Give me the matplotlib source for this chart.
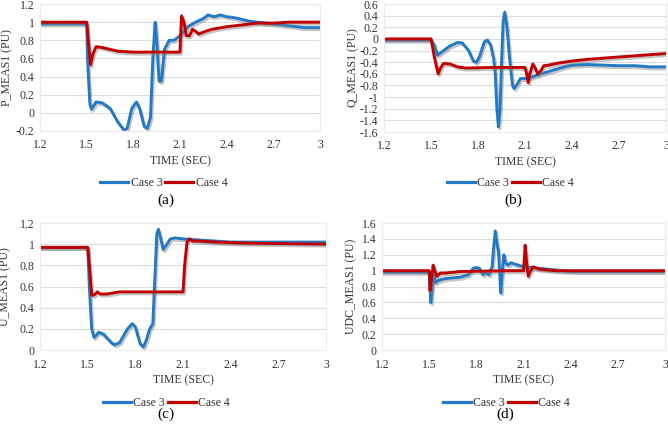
import matplotlib
matplotlib.use("Agg")
import matplotlib.pyplot as plt
import matplotlib.patheffects as pe

plt.rcParams['font.family'] = ['Liberation Serif', 'DejaVu Serif']

# ---------------- data ----------------
# (a) P_MEAS1
p3_t = [1.2, 1.5, 1.505, 1.52, 1.53, 1.56, 1.6, 1.65, 1.7, 1.74, 1.76, 1.79, 1.82, 1.84, 1.87, 1.89, 1.91, 1.925, 1.94, 1.95, 1.965, 1.98, 2.0, 2.03, 2.06, 2.1, 2.15, 2.2, 2.25, 2.28, 2.32, 2.36, 2.4, 2.45, 2.5, 2.55, 2.6, 2.7, 2.8, 2.9, 3.0]
p3_v = [0.98, 0.98, 0.6, 0.1, 0.04, 0.12, 0.11, 0.05, -0.1, -0.19, -0.17, 0.05, 0.12, 0.05, -0.15, -0.17, -0.05, 0.6, 1.0, 0.8, 0.35, 0.35, 0.7, 0.8, 0.8, 0.85, 0.95, 1.0, 1.04, 1.08, 1.06, 1.08, 1.06, 1.05, 1.03, 1.01, 1.0, 0.98, 0.96, 0.94, 0.94]
p4_t = [1.2, 1.5, 1.51, 1.525, 1.54, 1.56, 1.6, 1.65, 1.7, 1.8, 2.0, 2.1, 2.105, 2.11, 2.125, 2.14, 2.16, 2.18, 2.2, 2.22, 2.25, 2.3, 2.4, 2.5, 2.6, 2.7, 2.8, 3.0]
p4_v = [1.0, 1.0, 0.8, 0.53, 0.65, 0.73, 0.72, 0.70, 0.68, 0.67, 0.67, 0.67, 0.9, 1.07, 1.0, 0.85, 0.85, 0.92, 0.9, 0.87, 0.89, 0.92, 0.95, 0.97, 0.99, 0.99, 1.0, 1.0]

# (b) Q_MEAS1
q3_t = [1.2, 1.5, 1.52, 1.54, 1.57, 1.62, 1.67, 1.7, 1.74, 1.77, 1.79, 1.81, 1.84, 1.86, 1.88, 1.9, 1.91, 1.92, 1.93, 1.94, 1.95, 1.96, 1.97, 1.985, 2.0, 2.02, 2.03, 2.05, 2.07, 2.1, 2.15, 2.2, 2.25, 2.3, 2.35, 2.4, 2.5, 2.6, 2.7, 2.8, 2.9, 3.0]
q3_v = [-0.02, -0.02, -0.1, -0.28, -0.22, -0.12, -0.06, -0.07, -0.2, -0.38, -0.4, -0.3, -0.05, -0.02, -0.1, -0.35, -0.6, -1.2, -1.51, -1.2, -0.4, 0.3, 0.46, 0.2, -0.3, -0.8, -0.85, -0.78, -0.68, -0.68, -0.65, -0.6, -0.56, -0.52, -0.48, -0.45, -0.44, -0.45, -0.46, -0.46, -0.48, -0.48]
q4_t = [1.2, 1.5, 1.52, 1.545, 1.56, 1.58, 1.62, 1.67, 1.72, 1.9, 2.1, 2.11, 2.12, 2.13, 2.15, 2.165, 2.18, 2.2, 2.22, 2.25, 2.3, 2.4, 2.5, 2.6, 2.7, 2.8, 2.9, 3.0]
q4_v = [0.0, 0.0, -0.3, -0.6, -0.5, -0.42, -0.43, -0.48, -0.5, -0.49, -0.49, -0.6, -0.75, -0.6, -0.43, -0.5, -0.6, -0.55, -0.46, -0.45, -0.42, -0.38, -0.35, -0.33, -0.31, -0.29, -0.27, -0.25]

# (c) U_MEAS1
u3_t = [1.2, 1.5, 1.51, 1.525, 1.54, 1.57, 1.6, 1.65, 1.67, 1.7, 1.75, 1.78, 1.8, 1.83, 1.85, 1.87, 1.89, 1.91, 1.92, 1.935, 1.945, 1.96, 1.975, 1.99, 2.02, 2.05, 2.1, 2.2, 2.4, 2.7, 3.0]
u3_v = [0.97, 0.97, 0.6, 0.2, 0.12, 0.17, 0.15, 0.07, 0.05, 0.07, 0.2, 0.25, 0.22, 0.06, 0.03, 0.1, 0.2, 0.25, 0.6, 1.1, 1.14, 1.05, 0.95, 0.98, 1.05, 1.06, 1.05, 1.04, 1.02, 1.02, 1.02]
u4_t = [1.2, 1.5, 1.51, 1.525, 1.54, 1.56, 1.58, 1.62, 1.7, 1.8, 2.1, 2.11, 2.125, 2.14, 2.16, 2.2, 2.3, 2.5, 3.0]
u4_v = [0.97, 0.97, 0.8, 0.52, 0.52, 0.55, 0.53, 0.53, 0.55, 0.55, 0.55, 0.8, 1.02, 1.05, 1.03, 1.03, 1.02, 1.01, 1.0]

# (d) UDC_MEAS1
d3_t = [1.2, 1.5, 1.505, 1.51, 1.52, 1.53, 1.54, 1.56, 1.6, 1.7, 1.75, 1.78, 1.8, 1.82, 1.84, 1.86, 1.88, 1.9, 1.91, 1.92, 1.93, 1.94, 1.95, 1.955, 1.965, 1.975, 1.985, 2.0, 2.02, 2.05, 2.1, 2.15, 2.2, 2.25, 2.3, 2.4, 2.6, 3.0]
d3_v = [0.98, 0.98, 0.8, 0.6, 0.8, 0.95, 0.85, 0.88, 0.9, 0.92, 0.95, 1.03, 1.04, 1.03, 0.95, 0.97, 0.95, 1.05, 1.3, 1.5, 1.35, 1.25, 0.9, 0.72, 1.0, 1.2, 1.1, 1.07, 1.1, 1.08, 1.05, 1.04, 1.03, 1.02, 1.01, 0.99, 0.99, 0.99]
d4_t = [1.2, 1.5, 1.505, 1.515, 1.525, 1.535, 1.55, 1.57, 1.6, 1.65, 1.7, 2.0, 2.1, 2.11, 2.12, 2.13, 2.14, 2.16, 2.2, 2.3, 3.0]
d4_v = [1.0, 1.0, 0.75, 0.9, 1.07, 1.0, 0.93, 0.97, 0.97, 0.98, 0.99, 1.0, 1.0, 1.32, 1.1, 0.93, 0.98, 1.05, 1.02, 1.0, 1.0]

x_ticks = [1.2, 1.5, 1.8, 2.1, 2.4, 2.7, 3.0]
x_ticklabels = ['1.2', '1.5', '1.8', '2.1', '2.4', '2.7', '3']
series_names = ['Case 3', 'Case 4']
panel_labels = ['(a)', '(b)', '(c)', '(d)']
ylabels = ['P_MEAS1 (PU)', 'Q_MEAS1 (PU)', 'U_MEAS1 (PU)', 'UDC_MEAS1 (PU)']

BLUE = '#2479c6'
RED = '#c00000'
GRID = '#dcdcdc'

fig = plt.figure(figsize=(6.68, 4.26), dpi=100)

panels = [
    dict(pos=[0.060, 0.6925, 0.419, 0.298], d3=(p3_t, p3_v), d4=(p4_t, p4_v),
         ylim=(-0.2, 1.2), yt=[-0.2, 0, 0.2, 0.4, 0.6, 0.8, 1, 1.2],
         ytl=['-0.2', '0', '0.2', '0.4', '0.6', '0.8', '1', '1.2'],
         leg=(0.245, 0.570), lab=(0.249, 0.531), ylx=-0.094),
    dict(pos=[0.575, 0.690, 0.422, 0.3006], d3=(q3_t, q3_v), d4=(q4_t, q4_v),
         ylim=(-1.6, 0.6), yt=[-1.6, -1.4, -1.2, -1, -0.8, -0.6, -0.4, -0.2, 0, 0.2, 0.4, 0.6],
         ytl=['-1.6', '-1.4', '-1.2', '-1', '-0.8', '-0.6', '-0.4', '-0.2', '0', '0.2', '0.4', '0.6'],
         leg=(0.764, 0.570), lab=(0.769, 0.531), ylx=-0.089),
    dict(pos=[0.060, 0.178, 0.428, 0.2985], d3=(u3_t, u3_v), d4=(u4_t, u4_v),
         ylim=(0, 1.2), yt=[0, 0.2, 0.4, 0.6, 0.8, 1, 1.2],
         ytl=['0', '0.2', '0.4', '0.6', '0.8', '1', '1.2'],
         leg=(0.249, 0.054), lab=(0.249, 0.028), ylx=-0.099),
    dict(pos=[0.572, 0.178, 0.4235, 0.2985], d3=(d3_t, d3_v), d4=(d4_t, d4_v),
         ylim=(0, 1.6), yt=[0, 0.2, 0.4, 0.6, 0.8, 1, 1.2, 1.4, 1.6],
         ytl=['0', '0.2', '0.4', '0.6', '0.8', '1', '1.2', '1.4', '1.6'],
         leg=(0.758, 0.054), lab=(0.756, 0.028), ylx=-0.088),
]

shadow = [pe.SimpleLineShadow(offset=(1.0, -1.5), shadow_color='#808080', alpha=0.45), pe.Normal()]

for i, p in enumerate(panels):
    ax = fig.add_axes(p['pos'])
    l3, = ax.plot(p['d3'][0], p['d3'][1], color=BLUE, lw=2.1, label=series_names[0],
                  path_effects=shadow, solid_joinstyle='round')
    l4, = ax.plot(p['d4'][0], p['d4'][1], color=RED, lw=2.1, label=series_names[1],
                  path_effects=shadow, solid_joinstyle='round')
    ax.set_xlim(1.2, 3.0)
    ax.set_ylim(*p['ylim'])
    ax.set_xticks(x_ticks)
    ax.set_xticklabels(x_ticklabels)
    ax.set_yticks(p['yt'])
    ax.set_yticklabels(p['ytl'])
    ax.tick_params(length=0, labelsize=8.5, colors='#333333', pad=4)
    ax.tick_params(axis='x', pad=6)
    ax.grid(axis='y', color=GRID, lw=0.8)
    ax.set_axisbelow(True)
    for s in ax.spines.values():
        s.set_color('#ececec')
        s.set_linewidth(0.8)
    ax.set_xlabel('TIME (SEC)', fontsize=8.5, color='#333333', labelpad=3)
    ax.set_ylabel(ylabels[i], fontsize=8.5, color='#333333')
    ax.yaxis.set_label_coords(p['ylx'], 0.5)
    leg = fig.legend(handles=[l3, l4], loc='center', bbox_to_anchor=p['leg'], ncol=2,
                     frameon=False, fontsize=8.5, handlelength=2.4, columnspacing=0.2,
                     handletextpad=0.2, labelcolor='#333333')
    for h in leg.legend_handles:
        h.set_path_effects([])
        h.set_linewidth(2.3)
    fig.text(p['lab'][0], p['lab'][1], panel_labels[i], ha='center', va='center', fontsize=11)

fig.savefig('out.png', dpi=100)
